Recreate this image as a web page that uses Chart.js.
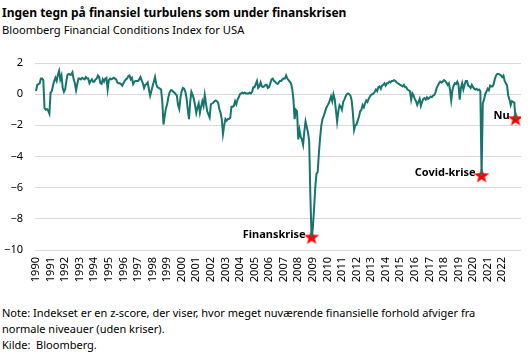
<!DOCTYPE html>
<html>
<head>
<meta charset="utf-8">
<script src="https://cdn.jsdelivr.net/npm/chart.js@4.4.0/dist/chart.umd.min.js"></script>
<style>
  body { margin: 0; width: 530px; height: 354px; background: #fff; font-family: 'Noto Sans', sans-serif; color: #000; position: relative; overflow: hidden; }
  .txt { position: absolute; left: 2px; white-space: nowrap; line-height: 16px; }
  #title { top: 5px; font-size: 12px; font-weight: bold; }
  #subtitle { top: 22px; font-size: 11.2px; }
  #note { top: 305px; font-size: 11px; }
  #wrap { position: absolute; left: 0; top: 40px; width: 530px; height: 250px; }
</style>
</head>
<body>
<div id="title" class="txt">Ingen tegn på finansiel turbulens som under finanskrisen</div>
<div id="subtitle" class="txt">Bloomberg Financial Conditions Index for USA</div>
<div id="wrap"><canvas id="myChart"></canvas></div>
<div id="note" class="txt">Note: Indekset er en z-score, der viser, hvor meget nuværende finansielle forhold afviger fra<br>normale niveauer (uden kriser).<br>Kilde:&nbsp; Bloomberg.</div>
<script>
// year tick labels
const years = [1990, 1991, 1992, 1993, 1994, 1995, 1996, 1997, 1998, 1999, 2000,
    2001, 2002, 2003, 2004, 2005, 2006, 2007, 2008, 2009, 2010, 2011,
    2012, 2013, 2014, 2015, 2016, 2017, 2018, 2019, 2020, 2021, 2022];

// monthly index values, jan 1990 - dec 2022
const fci = [
    0.2, 0.6, 0.65, 0.7, 1.0, 1.0, 0.9, -0.9, -1.0, -0.95, -1.05, -1.25,       // 1990
    0.1, 0.2, 0.55, 0.85, 1.05, 0.85, 1.25, 1.5, 0.95, 1.2, 0.4, 0.15,         // 1991
    0.3, 0.85, 1.25, 1.3, 1.25, 1.25, 1.4, 0.95, 0.7, 0.25, 0.65, 1.0,         // 1992
    1.0, 0.95, 1.05, 1.0, 0.95, 1.1, 1.0, 1.0, 0.7, 0.85, 0.95, 0.8,           // 1993
    0.8, 0.95, 1.0, 1.2, 1.1, 0.7, 0.65, 0.95, 0.8, 1.0, 1.05, 0.3,            // 1994
    0.9, 1.0, 0.95, 1.0, 1.05, 1.0, 0.95, 0.75, 0.7, 0.7, 0.65, 0.55,          // 1995
    0.7, 0.85, 0.95, 1.0, 1.15, 1.2, 0.95, 1.05, 0.65, 0.8, 0.85, 0.85,        // 1996
    0.85, 0.95, 1.1, 0.9, 0.7, 0.4, 0.6, 0.65, 0.75, 0.3, -0.1, 0.2,           // 1997
    0.5, 0.8, 1.1, 0.65, 0.45, 0.4, 0.35, 0.3, -0.45, -1.95, -1.4, -0.9,       // 1998
    -0.65, -0.2, 0.1, 0.25, 0.25, 0.15, 0.1, 0.0, -0.1, -0.7, -0.95, -0.2,     // 1999
    0.2, 0.4, 0.35, 0.15, -0.25, -1.0, -1.6, -0.5, 0.15, -0.05, -0.3, -0.7,    // 2000
    -1.2, -0.85, -0.6, -1.2, -0.8, -0.45, -0.75, -0.05, -0.6, -1.1, -1.3, -1.5, // 2001
    -0.65, -0.6, -0.55, -0.45, -0.4, -0.45, -0.55, -0.95, -1.2, -1.6, -2.55, -2.0, // 2002
    -1.6, -1.7, -1.6, -1.6, -1.5, -0.8, -0.8, -0.75, -0.45, -0.65, -0.35, -0.2, // 2003
    0.0, 0.05, 0.1, 0.05, 0.1, 0.05, 0.05, 0.05, 0.1, 0.05, 0.15, 0.45,        // 2004
    0.45, 0.65, 0.85, 0.4, 0.5, 0.75, 0.5, 0.45, 0.5, 0.6, 0.6, 0.4,           // 2005
    0.45, 0.7, 0.95, 1.0, 0.85, 0.8, 0.7, 0.65, 0.75, 0.85, 0.85, 0.95,        // 2006
    1.0, 1.0, 1.2, 1.0, 0.9, 0.8, 0.7, 0.35, -0.3, -1.6, -1.0, -1.1,           // 2007
    -2.9, -2.3, -2.75, -2.9, -3.25, -2.4, -1.75, -2.1, -2.45, -3.0, -6.6, -9.2, // 2008
    -8.6, -7.4, -6.0, -5.1, -5.0, -3.8, -2.8, -2.0, -1.6, -1.4, -1.15, -0.9,   // 2009
    -0.75, -0.6, -0.4, -0.15, -0.45, 0.0, -0.3, -1.0, -1.75, -1.1, -0.7, -0.8, // 2010
    -1.0, -0.5, -0.35, -0.15, 0.0, 0.05, 0.0, -0.1, -0.4, -1.2, -2.3, -2.0,    // 2011
    -1.95, -1.7, -1.45, -1.1, -1.0, -0.7, -0.85, -0.6, -0.4, -0.5, -0.3, -0.15, // 2012
    -0.05, 0.0, 0.05, 0.15, 0.3, 0.2, 0.45, 0.5, 0.35, 0.55, 0.6, 0.7,         // 2013
    0.55, 0.7, 0.7, 0.8, 0.75, 0.85, 0.85, 0.9, 0.85, 0.75, 0.7, 0.65,         // 2014
    0.6, 0.55, 0.5, 0.6, 0.45, 0.45, 0.3, 0.25, 0.2, -0.35, 0.05, -0.1,        // 2015
    -0.3, -0.45, -0.7, -0.5, -0.3, -0.75, -0.5, -0.3, -0.25, -0.35, -0.2, -0.3, // 2016
    -0.25, -0.15, -0.2, -0.1, -0.05, 0.1, 0.4, 0.55, 0.7, 0.8, 0.75, 0.8,      // 2017
    0.9, 0.85, 0.75, 0.6, 0.7, 0.3, -0.4, 0.25, 0.55, 0.7, 0.65, 0.8,          // 2018
    0.6, -0.35, 0.4, 0.7, 0.3, 0.6, 0.85, 0.85, 0.55, 0.5, 0.4, 0.6,           // 2019
    0.45, 0.35, 0.3, 0.35, 0.25, 0.3, 0.2, -5.25, -0.6, -0.35, 0.0, 0.15,      // 2020
    0.35, 0.25, 0.55, 0.5, 0.5, 0.65, 1.0, 1.2, 1.3, 1.3, 1.25, 1.2,           // 2021
    1.1, 1.2, 0.85, 0.7, 0.55, -0.1, -0.35, -0.7, -0.45, -0.5, -0.55, -1.6     // 2022
];

// marked points (year + month/12)
const annoLabels = ['Finanskrise', 'Covid-krise', 'Nu'];
const annoDates = [2008 + 11 / 12, 2020 + 7 / 12, 2022 + 11 / 12];

const LINE_COLOR = '#16756c';
const GRID_COLOR = '#d9d9d9';

function makeStar(r) {
    const c = document.createElement('canvas');
    c.width = c.height = r * 2 + 2;
    const g = c.getContext('2d');
    g.fillStyle = '#ff0000';
    g.beginPath();
    for (let i = 0; i < 10; i++) {
        const rad = i % 2 ? r * 0.42 : r;
        const a = -Math.PI / 2 + i * Math.PI / 5;
        g.lineTo(r + 1 + rad * Math.cos(a), r + 1 + rad * Math.sin(a));
    }
    g.closePath();
    g.fill();
    return c;
}

const lineData = fci.map((v, i) => ({ x: 1990 + i / 12, y: v }));
const starData = annoDates.map(d => ({ x: d, y: fci[Math.round((d - 1990) * 12)] }));

const starLabels = {
    id: 'starLabels',
    afterDatasetsDraw(chart) {
        const ctx = chart.ctx;
        const meta = chart.getDatasetMeta(1);
        ctx.save();
        ctx.font = 'bold 11px "Noto Sans"';
        ctx.fillStyle = '#000';
        ctx.textAlign = 'right';
        ctx.textBaseline = 'middle';
        meta.data.forEach((pt, i) => {
            ctx.fillText(annoLabels[i], pt.x - 6, pt.y - 3);
        });
        ctx.restore();
    }
};

Chart.defaults.font.family = "'Noto Sans', sans-serif";
Chart.defaults.color = '#000';

new Chart(document.getElementById('myChart'), {
    type: 'line',
    data: {
        datasets: [{
            data: lineData,
            borderColor: LINE_COLOR,
            borderWidth: 2,
            pointRadius: 0,
            tension: 0
        }, {
            type: 'scatter',
            data: starData,
            pointStyle: makeStar(8),
            pointRadius: 8
        }]
    },
    options: {
        responsive: true,
        maintainAspectRatio: false,
        animation: false,
        layout: { padding: { top: 23, right: 5, left: 0, bottom: 0 } },
        plugins: { legend: { display: false }, tooltip: { enabled: false } },
        scales: {
            x: {
                type: 'linear',
                min: 1989.93,
                max: 2023.29,
                grid: { display: false, drawTicks: false },
                border: { display: false },
                afterBuildTicks: s => { s.ticks = years.map(v => ({ value: v })); },
                afterFit: s => {
                    s.height = 40;
                    s.paddingLeft = 0;
                    s.paddingRight = 0;
                },
                ticks: {
                    autoSkip: false,
                    minRotation: 90,
                    maxRotation: 90,
                    padding: 7,
                    font: { size: 11 },
                    callback: v => String(v)
                }
            },
            y: {
                min: -10,
                max: 2,
                grid: { color: GRID_COLOR, drawTicks: false },
                border: { display: false },
                afterFit: s => { s.width = 35; },
                ticks: {
                    stepSize: 2,
                    padding: 12,
                    font: { size: 11 },
                    callback: v => String(v).replace('-', '\u2212')
                }
            }
        }
    },
    plugins: [starLabels]
});
</script>
</body>
</html>
